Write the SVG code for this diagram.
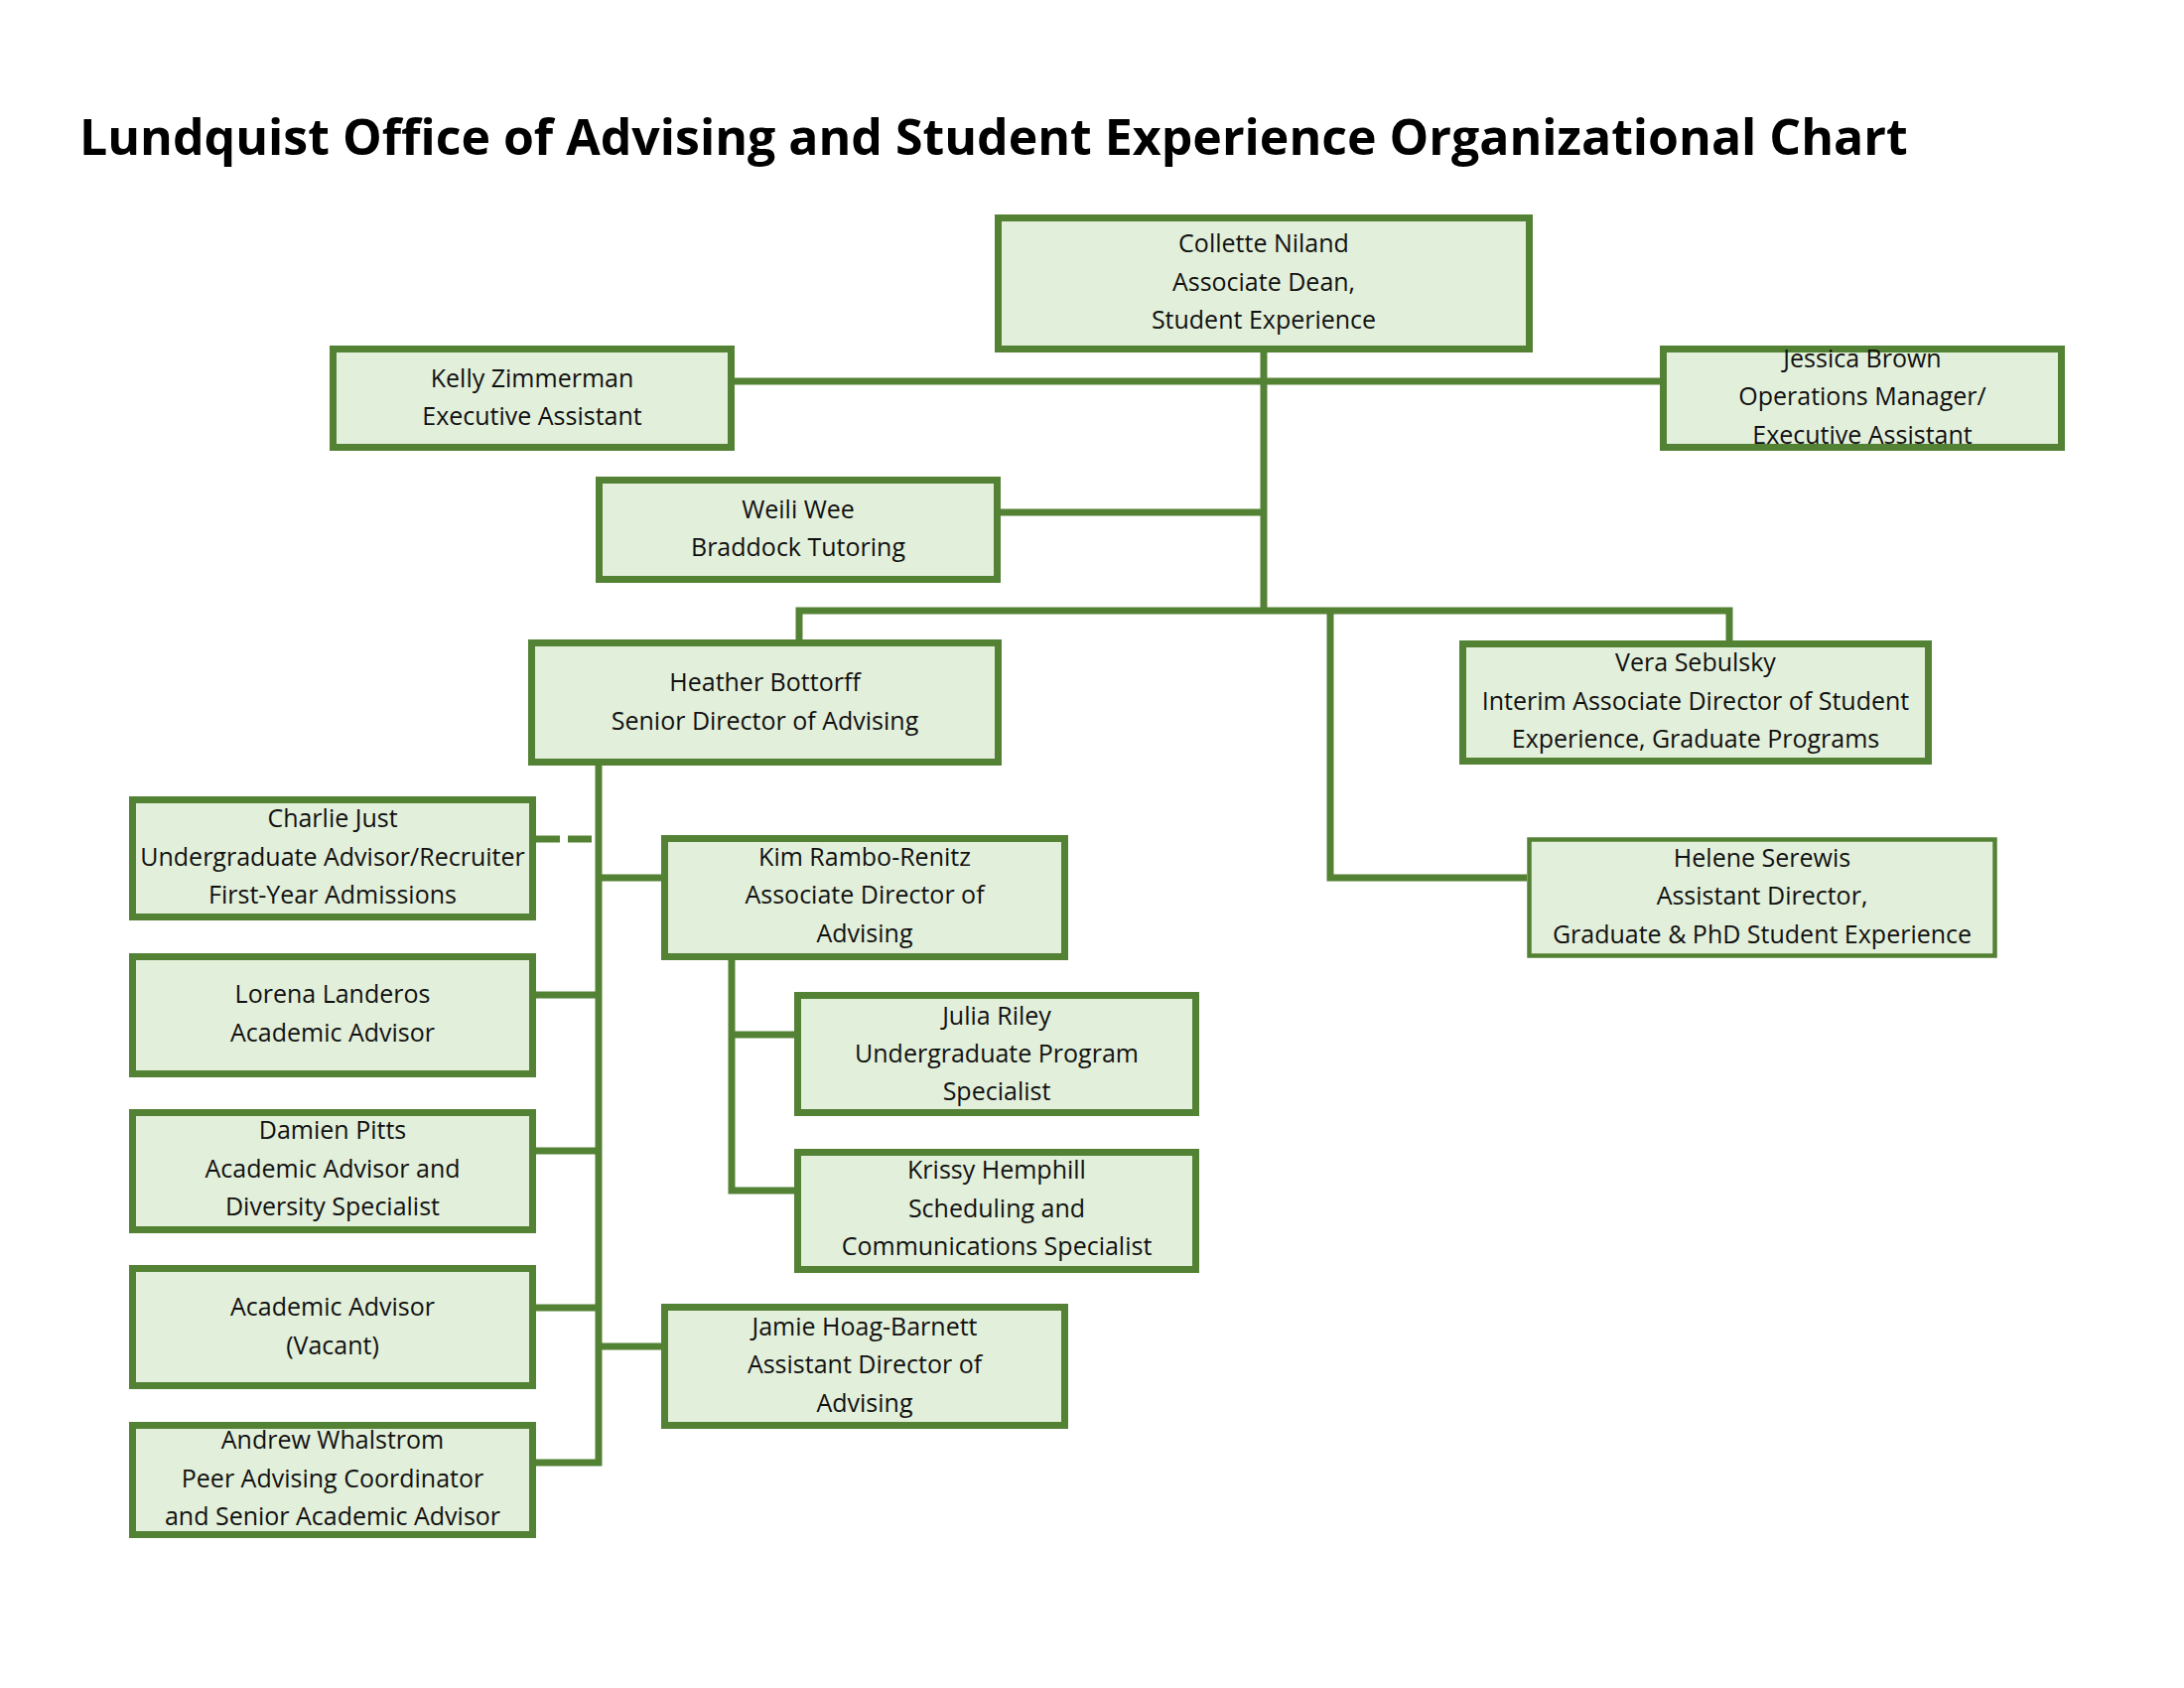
<svg xmlns="http://www.w3.org/2000/svg" width="2200" height="1700" viewBox="0 0 2200 1700">
<style>
.box{fill:#E2EFDA;stroke:#548235;stroke-width:7}
.thin{stroke-width:4.5}
.t{font-family:"Open Sans","Liberation Sans",sans-serif;font-size:25px;fill:#111;text-anchor:middle}
.title{font-family:"Open Sans","Liberation Sans",sans-serif;font-size:50px;font-weight:bold;fill:#000}
.c{stroke:#548235;stroke-width:7;fill:none}
.d{stroke:#548235;stroke-width:7;fill:none;stroke-dasharray:24 8}
</style>
<rect width="2200" height="1700" fill="#fff"/>
<text class="title" x="80" y="156">Lundquist Office of Advising and Student Experience Organizational Chart</text>
<g id="connectors">
<path class="c" d="M1273 355V615"/>
<path class="c" d="M740 384H1672"/>
<path class="c" d="M1008 516H1273"/>
<path class="c" d="M805 644V615H1742V645"/>
<path class="c" d="M1340 615V884H1538"/>
<path class="c" d="M603 771V1473H540"/>
<path class="d" d="M540 845H603"/>
<path class="c" d="M603 884H666"/>
<path class="c" d="M540 1002H603"/>
<path class="c" d="M540 1159H603"/>
<path class="c" d="M540 1317H603"/>
<path class="c" d="M603 1356H666"/>
<path class="c" d="M737 967V1199H800"/>
<path class="c" d="M737 1042H800"/>
</g>
<g id="collette"><rect class="box" x="1005.5" y="219.5" width="535" height="132"/>
<text class="t" x="1273" y="254">Collette Niland</text><text class="t" x="1273" y="292.5">Associate Dean,</text><text class="t" x="1273" y="331">Student Experience</text></g>
<g id="kelly"><rect class="box" x="335.5" y="351.5" width="401" height="99"/>
<text class="t" x="536" y="390">Kelly Zimmerman</text><text class="t" x="536" y="428">Executive Assistant</text></g>
<g id="jessica"><rect class="box" x="1675.5" y="351.5" width="401" height="99"/>
<text class="t" x="1876" y="370">Jessica Brown</text><text class="t" x="1876" y="408">Operations Manager/</text><text class="t" x="1876" y="446.5">Executive Assistant</text></g>
<g id="weili"><rect class="box" x="603.5" y="483.5" width="401" height="100"/>
<text class="t" x="804" y="522">Weili Wee</text><text class="t" x="804" y="559.5">Braddock Tutoring</text></g>
<g id="heather"><rect class="box" x="535.5" y="647.5" width="470" height="120"/>
<text class="t" x="770.5" y="696">Heather Bottorff</text><text class="t" x="770.5" y="734.5">Senior Director of Advising</text></g>
<g id="vera"><rect class="box" x="1473.5" y="648.5" width="469" height="118"/>
<text class="t" x="1708" y="676">Vera Sebulsky</text><text class="t" x="1708" y="714.5">Interim Associate Director of Student</text><text class="t" x="1708" y="753">Experience, Graduate Programs</text></g>
<g id="charlie"><rect class="box" x="133.5" y="805.5" width="403" height="118"/>
<text class="t" x="335" y="833">Charlie Just</text><text class="t" x="335" y="872">Undergraduate Advisor/Recruiter</text><text class="t" x="335" y="910">First-Year Admissions</text></g>
<g id="kim"><rect class="box" x="669.5" y="844.5" width="403" height="119"/>
<text class="t" x="871" y="872">Kim Rambo-Renitz</text><text class="t" x="871" y="910">Associate Director of</text><text class="t" x="871" y="948.5">Advising</text></g>
<g id="helene"><rect class="box thin" x="1540.5" y="845.5" width="469" height="117"/>
<text class="t" x="1775" y="872.5">Helene Serewis</text><text class="t" x="1775" y="911">Assistant Director,</text><text class="t" x="1775" y="949.5">Graduate &amp; PhD Student Experience</text></g>
<g id="lorena"><rect class="box" x="133.5" y="963.5" width="403" height="118"/>
<text class="t" x="335" y="1010">Lorena Landeros</text><text class="t" x="335" y="1048.5">Academic Advisor</text></g>
<g id="julia"><rect class="box" x="803.5" y="1002.5" width="401" height="118"/>
<text class="t" x="1004" y="1031.5">Julia Riley</text><text class="t" x="1004" y="1069.5">Undergraduate Program</text><text class="t" x="1004" y="1107.5">Specialist</text></g>
<g id="damien"><rect class="box" x="133.5" y="1120.5" width="403" height="118"/>
<text class="t" x="335" y="1147">Damien Pitts</text><text class="t" x="335" y="1186">Academic Advisor and</text><text class="t" x="335" y="1224">Diversity Specialist</text></g>
<g id="krissy"><rect class="box" x="803.5" y="1160.5" width="401" height="118"/>
<text class="t" x="1004" y="1187">Krissy Hemphill</text><text class="t" x="1004" y="1226">Scheduling and</text><text class="t" x="1004" y="1264">Communications Specialist</text></g>
<g id="vacant"><rect class="box" x="133.5" y="1277.5" width="403" height="118"/>
<text class="t" x="335" y="1325">Academic Advisor</text><text class="t" x="335" y="1363.5">(Vacant)</text></g>
<g id="jamie"><rect class="box" x="669.5" y="1316.5" width="403" height="119"/>
<text class="t" x="871" y="1345">Jamie Hoag-Barnett</text><text class="t" x="871" y="1383">Assistant Director of</text><text class="t" x="871" y="1421.5">Advising</text></g>
<g id="andrew"><rect class="box" x="133.5" y="1435.5" width="403" height="110"/>
<text class="t" x="335" y="1459">Andrew Whalstrom</text><text class="t" x="335" y="1497.5">Peer Advising Coordinator</text><text class="t" x="335" y="1535.5">and Senior Academic Advisor</text></g>
</svg>
